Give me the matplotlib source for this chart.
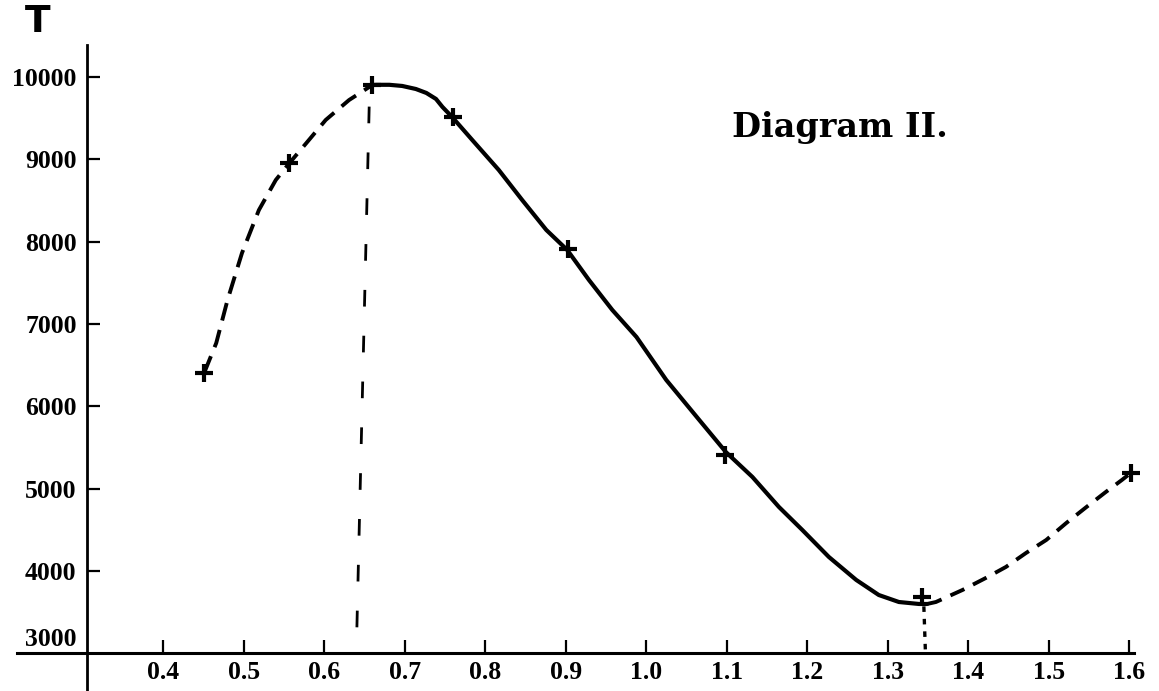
import matplotlib
matplotlib.use("Agg")
import matplotlib.pyplot as plt

plt.rcParams['lines.scale_dashes'] = False

# observed points (crosses)
obs_x = [0.451, 0.557, 0.660, 0.760, 0.903, 1.098, 1.343, 1.602]
obs_T = [6405, 8955, 9903, 9514, 7911, 5409, 3684, 5190]

# dashed branch on the left
left_x = [0.451, 0.466, 0.480, 0.498, 0.519, 0.540, 0.557, 0.578, 0.602, 0.631, 0.656, 0.660]
left_T = [6405, 6768, 7290, 7862, 8384, 8749, 8955, 9198, 9478, 9720, 9878, 9903]

# solid middle branch
mid_x = [0.660, 0.665, 0.681, 0.697, 0.714, 0.727, 0.739, 0.747, 0.759, 0.784,
         0.817, 0.846, 0.876, 0.902, 0.929, 0.958, 0.988, 1.025, 1.066, 1.099,
         1.132, 1.165, 1.194, 1.227, 1.261, 1.289, 1.314, 1.339, 1.349]
mid_T = [9903, 9905, 9905, 9891, 9854, 9806, 9733, 9636, 9514, 9235,
         8870, 8506, 8142, 7899, 7534, 7170, 6842, 6320, 5834, 5445,
         5142, 4777, 4498, 4170, 3891, 3708, 3623, 3599, 3599]

# dashed branch on the right
right_x = [1.349, 1.360, 1.393, 1.422, 1.447, 1.472, 1.497, 1.522, 1.547, 1.571, 1.591, 1.602]
right_T = [3599, 3623, 3769, 3915, 4049, 4219, 4376, 4583, 4777, 4959, 5105, 5190]

# drop lines to the axis
drop1_x = [0.656, 0.640]
drop1_T = [9640, 3010]
drop2_x = [1.345, 1.347]
drop2_T = [3570, 3000]

xticks = [0.4, 0.5, 0.6, 0.7, 0.8, 0.9, 1.0, 1.1, 1.2, 1.3, 1.4, 1.5, 1.6]
xlabels = ['0.4', '0.5', '0.6', '0.7', '0.8', '0.9', '1.0', '1.1', '1.2', '1.3', '1.4', '1.5', '1.6']
yticks = [4000, 5000, 6000, 7000, 8000, 9000, 10000]
ylabels = ['4000', '5000', '6000', '7000', '8000', '9000', '10000']

fig = plt.figure(figsize=(11.59, 6.91), dpi=100)
ax = fig.add_axes([0, 0, 1, 1])
ax.set_xlim(0.1974, 1.6371)
ax.set_ylim(2542, 10935)

ax.plot(left_x, left_T, color='black', lw=2.8, dashes=(13, 7), dash_capstyle='butt', dash_joinstyle='round')
ax.plot(mid_x, mid_T, color='black', lw=3.0, solid_capstyle='round', solid_joinstyle='round')
ax.plot(right_x, right_T, color='black', lw=2.8, dashes=(11, 7), dash_capstyle='butt', dash_joinstyle='round')
ax.plot(drop1_x, drop1_T, color='black', lw=2.0, dashes=(12, 21), dash_capstyle='butt')
ax.plot(drop2_x, drop2_T, color='black', lw=2.4, dashes=(4, 5), dash_capstyle='butt')
ax.plot(obs_x, obs_T, ls='none', marker='+', ms=13, mew=3, color='black')

for s in ['top', 'right']:
    ax.spines[s].set_visible(False)
ax.spines['left'].set_position(('data', 0.305))
ax.spines['bottom'].set_position(('data', 3000))
ax.spines['left'].set_bounds(2542, 10389)
ax.spines['bottom'].set_bounds(0.2185, 1.6061)
ax.spines['left'].set_linewidth(2.0)
ax.spines['bottom'].set_linewidth(2.2)

ax.set_xticks(xticks)
ax.set_xticklabels(xlabels)
ax.set_yticks(yticks)
ax.set_yticklabels(ylabels)
ax.tick_params(direction='in', length=9.5, width=1.6, color='black')
ax.tick_params(axis='x', pad=5.5)
ax.tick_params(axis='y', pad=7.2)
for lab in ax.get_xticklabels() + ax.get_yticklabels():
    lab.set_fontfamily('Liberation Serif')
    lab.set_fontweight('bold')
    lab.set_fontsize(18.5)

ax.annotate('3000', xy=(0.305, 3000), xytext=(-7.2, 10), textcoords='offset points',
            ha='right', va='center', fontfamily='Liberation Serif', fontweight='bold', fontsize=18.5)

fig.text(38 / 1159, 1 - 22 / 691, 'T', ha='center', va='center',
         fontfamily='DejaVu Sans', fontweight='bold', fontsize=27)
fig.text(732 / 1159, 1 - 137 / 691, 'Diagram II.', ha='left', va='baseline',
         fontfamily='DejaVu Serif', fontweight='bold', fontsize=24)

fig.savefig('out.png', dpi=100)
